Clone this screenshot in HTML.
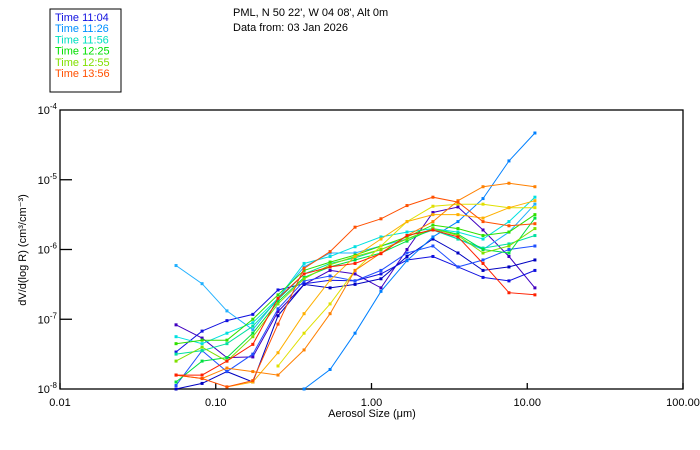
<!DOCTYPE html>
<html><head><meta charset="utf-8"><style>
body{margin:0;background:#fff;}
svg{display:block;font-family:"Liberation Sans",sans-serif;}
</style></head><body>
<svg id="chart" width="700" height="450">
<rect x="50" y="9" width="71" height="83" fill="#fff" stroke="#000" stroke-width="1"/>
<g id="legend" font-size="11"></g>
<text x="233" y="16" font-size="11">PML, N 50 22', W 04 08', Alt 0m</text>
<text x="233" y="31" font-size="11">Data from: 03 Jan 2026</text>
<g id="axes"></g>
<g id="series"></g>
<text x="0" y="0" font-size="11" transform="translate(26,250) rotate(-90)" text-anchor="middle">dV/d(log R) (cm³/cm⁻³)</text>
<text x="372" y="417" font-size="11" text-anchor="middle">Aerosol Size (μm)</text>
</svg>
<script>
const diameters=[0.0556,0.0817,0.118,0.173,0.251,0.369,0.542,0.784,1.15,1.69,2.48,3.59,5.20,7.63,11.2];
const xTickLabels=["0.01","0.10","1.00","10.00","100.00"];
const yTickExps=[-4,-5,-6,-7,-8];
const legendLabels=["Time 11:04","Time 11:26","Time 11:56","Time 12:25","Time 12:55","Time 13:56"];
const legendColors=["#1010e0","#0090ff","#00e0c0","#00e000","#80e000","#ff5000"];
const seriesColors=["#4000c0","#0000c0","#1010e0","#2050ff","#0080ff","#20b0ff","#00e0e0","#00e0a0","#00e040","#30e000","#80e000","#e0e000","#ffb000","#ff8000","#ff5000","#ff2000"];
// log10 dV/dlogR per series
const sPurple=[-7.08,-7.27,-7.55,-7.54,-6.89,-6.5,-6.3,-6.35,-6.55,-6.0,-5.47,-5.39,-5.72,-6.1,-6.55];
const sBlueDark=[-8.0,-7.92,-7.75,-7.9,-6.95,-6.5,-6.55,-6.5,-6.42,-6.1,-5.85,-6.05,-6.3,-6.25,-6.15];
const sBlue=[-7.47,-7.17,-7.02,-6.93,-6.58,-6.49,-6.44,-6.45,-6.35,-6.15,-6.1,-6.25,-6.4,-6.45,-6.3];
const sBlue2=[-7.95,-7.45,-7.75,-7.5,-6.85,-6.45,-6.38,-6.45,-6.3,-6.05,-5.95,-6.25,-6.15,-6.0,-5.95];
const sDodger=[null,null,null,null,null,-8.0,-7.72,-7.2,-6.6,-6.16,-5.82,-5.6,-5.27,-4.73,-4.33];
const sLightBlue=[-6.23,-6.49,-6.88,-7.15,-6.7,-6.25,-6.05,-6.05,-5.95,-5.85,-5.7,-5.85,-6.0,-5.75,-5.35];
const sCyan=[-7.25,-7.35,-7.2,-7.05,-6.7,-6.2,-6.1,-5.96,-5.82,-5.75,-5.7,-5.75,-5.85,-5.6,-5.25];
const sTeal=[-7.5,-7.45,-7.35,-7.1,-6.72,-6.35,-6.2,-6.12,-6.0,-5.85,-5.72,-5.85,-5.98,-5.92,-5.8];
const sGreen=[-7.9,-7.6,-7.55,-7.2,-6.75,-6.4,-6.25,-6.15,-6.05,-5.88,-5.7,-5.78,-6.0,-6.05,-5.55];
const sGreen2=[-7.35,-7.3,-7.3,-7.0,-6.65,-6.3,-6.18,-6.08,-5.95,-5.82,-5.65,-5.7,-5.8,-5.75,-5.5];
const sLime=[-7.6,-7.4,-7.6,-7.25,-6.78,-6.42,-6.22,-6.1,-6.0,-5.85,-5.7,-5.8,-6.05,-5.95,-5.7];
const sYellow=[null,null,null,null,-7.67,-7.2,-6.78,-6.3,-5.95,-5.6,-5.38,-5.35,-5.35,-5.4,-5.4];
const sOrangeYellow=[null,null,-7.97,-7.9,-7.48,-6.92,-6.44,-6.1,-5.85,-5.6,-5.5,-5.5,-5.55,-5.4,-5.3];
const sOrange=[-7.8,-7.85,-7.7,-7.75,-7.8,-7.44,-6.92,-6.3,-6.05,-5.8,-5.6,-5.3,-5.1,-5.05,-5.1];
const sOrangeRed=[-7.8,-7.85,-7.97,-7.88,-7.07,-6.27,-6.03,-5.68,-5.56,-5.37,-5.25,-5.32,-5.6,-5.66,-5.63];
const sRed=[-7.8,-7.8,-7.6,-7.36,-6.7,-6.35,-6.25,-6.2,-6.06,-5.8,-5.72,-5.82,-6.2,-6.62,-6.65];
const allSeries=[sPurple,sBlueDark,sBlue,sBlue2,sDodger,sLightBlue,sCyan,sTeal,sGreen,sGreen2,sLime,sYellow,sOrangeYellow,sOrange,sOrangeRed,sRed];

const NS="http://www.w3.org/2000/svg";
const L=60,R=683,T=110,B=389;
function xs(d){return L+(Math.log10(d)+2)*(R-L)/4;}
function ys(lg){return T+(-4-lg)*(B-T)/4;}
function mk(tag,attrs,parent){const e=document.createElementNS(NS,tag);for(const k in attrs)e.setAttribute(k,attrs[k]);parent.appendChild(e);return e;}
const axes=document.getElementById('axes');
const frame=mk('rect',{x:L,y:T,width:R-L,height:B-T,fill:'none',stroke:'#000','stroke-width':1.3},axes);


xTickLabels.forEach((t,i)=>{
  const x=xs(Math.pow(10,i-2));
  const tk=mk('line',{x1:x,x2:x,y1:B,y2:B-6,stroke:'#000','stroke-width':1.3},axes);
  
  
  const tx=mk('text',{x:x,y:B+17,'font-size':11,'text-anchor':'middle'},axes);
  tx.textContent=t;
  
  
});
yTickExps.forEach(e=>{
  const y=ys(e);
  if(e!==-4&&e!==-8){
    const tk=mk('line',{x1:L,x2:L+12,y1:y,y2:y,stroke:'#000','stroke-width':1.3},axes);
    
    
  }
  const tx=mk('text',{x:L-3,y:y+4,'font-size':11,'text-anchor':'end'},axes);
  tx.innerHTML='10<tspan dy="-5" font-size="8">'+e+'</tspan>';
  
  
});
const sg=document.getElementById('series');
allSeries.forEach((s,i)=>{
  const g=mk('g',{},sg);
  
  
  const pts=[];
  s.forEach((v,j)=>{if(v!==null)pts.push([xs(diameters[j]),ys(v)]);});
  const pl=mk('polyline',{points:pts.map(p=>p[0].toFixed(1)+','+p[1].toFixed(1)).join(' '),fill:'none',stroke:seriesColors[i],'stroke-width':1},g);
  
  
  pts.forEach(p=>{
    const r=mk('rect',{x:p[0]-1.5,y:p[1]-1.5,width:3,height:3,fill:seriesColors[i]},g);
    
    
  });
});
const lg=document.getElementById('legend');
legendLabels.forEach((t,i)=>{
  const tx=mk('text',{x:55,y:21+i*11.2,fill:legendColors[i]},lg);
  tx.textContent=t;
  
  
});
</script>
</body></html>
